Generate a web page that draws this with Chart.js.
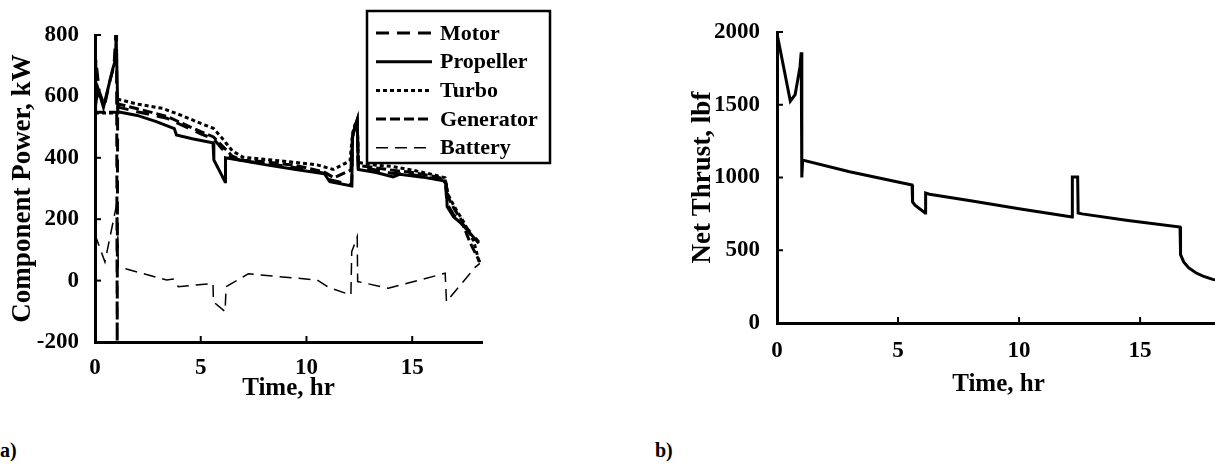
<!DOCTYPE html>
<html>
<head>
<meta charset="utf-8">
<script src="https://cdn.jsdelivr.net/npm/chart.js@4"></script>
<style>
  html, body { margin: 0; padding: 0; background: #fff; overflow: hidden; width: 1215px; height: 467px; }
  .panel { position: absolute; top: 0; }
  .tag { position: absolute; font: bold 20px 'Liberation Serif', serif; color: #000; }
</style>
</head>
<body>
<canvas id="powerChart" class="panel" width="560" height="420" style="left:0"></canvas>
<canvas id="thrustChart" class="panel" width="545" height="420" style="left:680px"></canvas>
<div class="tag" style="left:0;top:439px">a)</div>
<div class="tag" style="left:655px;top:439px">b)</div>
<script>
// values (time in hr, power in kW, thrust in lbf)
const motorTime = [0, 0.04, 0.2, 0.45, 0.7, 0.9, 0.98, 1.02, 1.05, 1.07, 1.1, 2.0, 3.4, 5.0, 5.6, 6.0, 6.5, 7.0, 8.0, 9.5, 10.8, 11.0, 11.5, 12.14, 12.18, 12.3, 12.4, 12.45, 13.0, 14.0, 15.0, 16.0, 16.55, 16.65, 16.95, 17.3, 17.6, 18.15];
const motorPower = [200, 720, 615, 570, 650, 700, 800, 800, -200, 560, 565, 550, 529, 478, 462, 430, 400, 390, 382, 368, 350, 330, 322, 312, 470, 505, 525, 368, 364, 350, 345, 333, 327, 250, 215, 190, 170, 126];

const propTime = [0, 0.14, 0.4, 0.85, 0.97, 1.0, 1.03, 1.08, 2.0, 2.9, 3.75, 3.85, 4.6, 5.55, 5.58, 5.62, 6.15, 6.17, 7.0, 8.1, 9.5, 10.85, 11.1, 12.14, 12.18, 12.3, 12.4, 12.45, 13.3, 14.1, 14.4, 15.5, 16.48, 16.62, 16.65, 16.95, 17.3, 17.6, 18.15];
const propPower = [560, 625, 565, 692, 720, 800, 800, 550, 538, 518, 495, 474, 462, 449, 449, 393, 322, 400, 390, 377, 362, 348, 322, 308, 468, 500, 523, 362, 352, 338, 346, 337, 325, 313, 241, 208, 187, 165, 122];

const turboTime = [0, 1.08, 1.12, 2.0, 3.2, 4.2, 5.0, 5.6, 6.0, 6.5, 7.0, 8.0, 9.5, 10.5, 11.27, 12.06, 12.18, 12.3, 12.4, 12.45, 13.0, 14.0, 15.0, 16.0, 16.55, 16.7, 17.0, 17.4, 17.9, 18.2];
const turboPower = [546, 546, 590, 575, 561, 535, 512, 496, 465, 422, 402, 395, 385, 377, 362, 390, 480, 510, 520, 385, 378, 372, 360, 345, 335, 280, 240, 195, 130, 52];

const genTime = [0, 1.08, 1.12, 2.0, 3.4, 5.0, 5.6, 6.0, 6.5, 7.0, 8.0, 9.5, 10.8, 11.3, 12.1, 12.18, 12.3, 12.4, 12.45, 13.0, 14.0, 15.0, 16.0, 16.55, 16.7, 17.0, 17.3, 17.74, 18.2];
const genPower = [548, 548, 575, 560, 535, 485, 468, 440, 405, 392, 387, 375, 355, 335, 360, 470, 505, 515, 375, 370, 360, 352, 340, 330, 272, 232, 200, 123, 60];

const battTime = [0, 0.47, 1.0, 1.05, 1.1, 3.39, 3.7, 3.94, 5.58, 5.6, 6.15, 6.2, 7.25, 10.5, 11.04, 12.1, 12.14, 12.4, 12.42, 13.87, 16.56, 16.62, 17.97, 18.2];
const battPower = [150, 61, 240, 270, 45, 2, 5, -20, -9, -69, -101, -20, 22, 2, -22, -47, 94, 143, -3, -25, 24, -69, 43, 56];

const thrustTime = [0, 0.55, 0.75, 0.95, 1.0, 1.02, 1.03, 1.06, 3.0, 5.58, 5.6, 5.7, 6.12, 6.14, 6.3, 8.0, 10.0, 12.19, 12.2, 12.42, 12.44, 12.6, 14.5, 16.65, 16.67, 16.8, 17.0, 17.3, 17.6, 18.0, 18.3];
const thrustValue = [1990, 1525, 1570, 1760, 1860, 1860, 1000, 1120, 1040, 948, 832, 810, 756, 893, 885, 840, 785, 728, 1003, 1003, 756, 750, 705, 660, 470, 420, 380, 345, 322, 300, 290];

const xTicks = [0, 5, 10, 15];
const powerTicks = [-200, 0, 200, 400, 600, 800];
const thrustTicks = [0, 500, 1000, 1500, 2000];

const pts = (ts, vs) => ts.map((t, i) => ({ x: t, y: vs[i] }));

Chart.defaults.font.family = "'Liberation Serif', 'Times New Roman', serif";
Chart.defaults.font.weight = 'bold';
Chart.defaults.color = '#000';

// small tick marks pointing into the plot, like the original
const inwardTicks = {
    id: 'inwardTicks',
    afterDraw(chart) {
        const { ctx, chartArea, scales: { x, y } } = chart;
        ctx.save();
        ctx.strokeStyle = '#000';
        ctx.lineWidth = 2;
        x.ticks.forEach(t => {
            const px = x.getPixelForValue(t.value);
            ctx.beginPath();
            ctx.moveTo(px, chartArea.bottom);
            ctx.lineTo(px, chartArea.bottom - 6);
            ctx.stroke();
        });
        y.ticks.forEach(t => {
            const py = y.getPixelForValue(t.value);
            ctx.beginPath();
            ctx.moveTo(chartArea.left, py);
            ctx.lineTo(chartArea.left + 6, py);
            ctx.stroke();
        });
        ctx.restore();
    }
};

// boxed legend sitting over the top right of the plot
const boxLegend = {
    id: 'boxLegend',
    afterDraw(chart) {
        const ctx = chart.ctx;
        const box = { x: 367, y: 11, w: 183, h: 152 };
        ctx.save();
        ctx.fillStyle = '#fff';
        ctx.fillRect(box.x, box.y, box.w, box.h);
        ctx.strokeStyle = '#000';
        ctx.lineWidth = 2.5;
        ctx.strokeRect(box.x, box.y, box.w, box.h);
        ctx.font = "bold 22px 'Liberation Serif', serif";
        ctx.textBaseline = 'middle';
        ctx.fillStyle = '#000';
        chart.data.datasets.forEach((ds, i) => {
            const rowY = 33 + i * 28.7;
            ctx.beginPath();
            ctx.setLineDash(ds.borderDash || []);
            ctx.lineWidth = ds.borderWidth;
            ctx.moveTo(376, rowY);
            ctx.lineTo(432, rowY);
            ctx.stroke();
            ctx.setLineDash([]);
            ctx.fillText(ds.label, 440, rowY + 1);
        });
        ctx.restore();
    }
};

function axes(yMin, yMax, yTicks, yTitle, yWidth, xHeight, yPad, xTickPad, xTitlePad) {
    return {
        x: {
            type: 'linear', min: 0, max: 18.3,
            afterBuildTicks: s => { s.ticks = xTicks.map(v => ({ value: v })); },
            afterFit: s => { s.height = xHeight; },
            grid: { display: false },
            border: { color: '#000', width: 3 },
            ticks: { font: { size: 23 }, padding: xTickPad, maxRotation: 0, callback: v => String(v) },
            title: { display: true, text: 'Time, hr', font: { size: 25 }, padding: { top: 0, bottom: xTitlePad } }
        },
        y: {
            min: yMin, max: yMax,
            afterBuildTicks: s => { s.ticks = yTicks.map(v => ({ value: v })); },
            afterFit: s => { s.width = yWidth; },
            grid: { display: false },
            border: { color: '#000', width: 3 },
            ticks: { font: { size: 23 }, padding: yPad, callback: v => String(v) },
            title: { display: true, text: yTitle, font: { size: 27 }, padding: { top: 7, bottom: 0 } }
        }
    };
}

const lineStyle = { fill: false, pointRadius: 0, tension: 0, borderColor: '#000' };

new Chart(document.getElementById('powerChart'), {
    type: 'line',
    data: {
        datasets: [
            { ...lineStyle, label: 'Motor', data: pts(motorTime, motorPower), borderWidth: 3, borderDash: [13, 8] },
            { ...lineStyle, label: 'Propeller', data: pts(propTime, propPower), borderWidth: 3 },
            { ...lineStyle, label: 'Turbo', data: pts(turboTime, turboPower), borderWidth: 3, borderDash: [4, 3] },
            { ...lineStyle, label: 'Generator', data: pts(genTime, genPower), borderWidth: 3, borderDash: [10, 4] },
            { ...lineStyle, label: 'Battery', data: pts(battTime, battPower), borderWidth: 1.5, borderDash: [12, 7] }
        ]
    },
    options: {
        responsive: false,
        animation: false,
        layout: { padding: { top: 35, right: 78, left: 0, bottom: 0 } },
        plugins: { legend: { display: false }, tooltip: { enabled: false } },
        scales: axes(-200, 800, powerTicks, 'Component Power, kW', 95, 78, 8, 4, 16)
    },
    plugins: [inwardTicks, boxLegend]
});

new Chart(document.getElementById('thrustChart'), {
    type: 'line',
    data: {
        datasets: [
            { ...lineStyle, label: 'Net Thrust', data: pts(thrustTime, thrustValue), borderWidth: 3 }
        ]
    },
    options: {
        responsive: false,
        animation: false,
        layout: { padding: { top: 32, right: 5, left: 0, bottom: 0 } },
        plugins: { legend: { display: false }, tooltip: { enabled: false } },
        scales: axes(0, 2000, thrustTicks, 'Net Thrust, lbf', 97, 97, 9, 6, 20)
    },
    plugins: [inwardTicks]
});
</script>
</body>
</html>
